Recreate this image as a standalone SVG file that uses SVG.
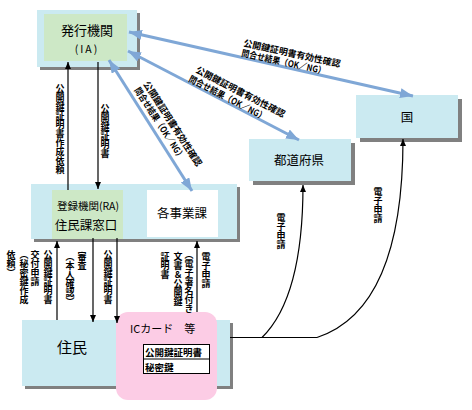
<svg xmlns="http://www.w3.org/2000/svg" width="472" height="410" viewBox="0 0 472 410">
<style>
text{font-family:"Noto Sans CJK JP","Noto Sans",sans-serif;fill:#000}
.box{fill:#cbeaf1}
.sh{fill:#808080}
.grn{fill:#cde8c6}
.lbl{font-size:9px;font-weight:bold}
.v{writing-mode:vertical-rl;font-size:9px;font-weight:bold}
.ln{stroke:#000;stroke-width:1.2;fill:none}
.bl{stroke:#7fa7d6;stroke-width:3;fill:none;marker-start:url(#bh);marker-end:url(#bh)}
</style>
<defs>
<marker id="ah" markerUnits="userSpaceOnUse" markerWidth="7" markerHeight="6" refX="7" refY="3" orient="auto-start-reverse" viewBox="0 0 7 6"><path d="M0,0 L7,3 L0,6 z" fill="#000"/></marker>
<marker id="bh" markerUnits="userSpaceOnUse" markerWidth="13" markerHeight="10" refX="13" refY="5" orient="auto-start-reverse" viewBox="0 0 13 10"><path d="M0,0 L13,5 L0,10 z" fill="#7fa7d6"/></marker>
</defs>

<g id="ia">
<rect class="sh" x="40" y="13" width="100" height="57"/>
<rect class="box" x="37" y="10" width="100" height="57"/>
<rect class="grn" x="44" y="14" width="83" height="47"/>
<text x="87" y="35" text-anchor="middle" font-size="13">発行機関</text>
<text x="87" y="53" text-anchor="middle" font-size="10.5" letter-spacing="2">(IA)</text>
</g>

<g id="city">
<rect class="sh" x="34" y="187" width="206" height="55"/>
<rect class="box" x="31" y="184" width="206" height="55"/>
<g id="ra">
<rect class="grn" x="52" y="190" width="71" height="49"/>
<text x="88" y="210" text-anchor="middle" font-size="10.5">登録機関(RA)</text>
<text x="86" y="230" text-anchor="middle" font-size="12.5">住民課窓口</text>
</g>
<g id="jigyouka">
<rect fill="#fff" x="147" y="190" width="71" height="47"/>
<text x="182" y="218" text-anchor="middle" font-size="12.5">各事業課</text>
</g>
</g>

<g id="todofuken">
<rect class="sh" x="253" y="143" width="102" height="42"/>
<rect class="box" x="249" y="139" width="102" height="42"/>
<text x="299" y="165" text-anchor="middle" font-size="12.5">都道府県</text>
</g>

<g id="kuni">
<rect class="sh" x="360" y="99" width="102" height="43"/>
<rect class="box" x="356" y="95" width="102" height="43"/>
<text x="407" y="122" text-anchor="middle" font-size="12.5">国</text>
</g>

<g id="jumin">
<rect class="sh" x="25" y="323" width="208" height="66"/>
<rect class="box" x="22" y="320" width="208" height="66"/>
<text x="72" y="353" text-anchor="middle" font-size="15">住民</text>
</g>

<g id="iccard">
<rect fill="#fccce5" x="116" y="312" width="101" height="88" rx="12"/>
<text x="130" y="333" font-size="11">ICカード　等</text>
<rect fill="#fff" stroke="#000" stroke-width="1" x="143.5" y="344.5" width="66" height="29"/>
<line x1="143.5" y1="359" x2="209.5" y2="359" stroke="#000" stroke-width="1"/>
<text x="145" y="356" font-size="9.5" font-weight="bold">公開鍵証明書</text>
<text x="145" y="371" font-size="9.5" font-weight="bold">秘密鍵</text>
</g>

<g id="connectors">
<path class="bl" d="M129,32 L413,96"/>
<path class="bl" d="M128,51 L299,140"/>
<path class="bl" d="M109,60 L192,191"/>
<path class="ln" d="M68,190 V62" marker-end="url(#ah)"/>
<path class="ln" d="M98,62 V189" marker-end="url(#ah)"/>
<path class="ln" d="M57,320 V241" marker-end="url(#ah)"/>
<path class="ln" d="M93,238 V322" marker-end="url(#ah)"/>
<path class="ln" d="M117,238 V323" marker-end="url(#ah)"/>
<path class="ln" d="M197,312 V241" marker-end="url(#ah)"/>
<path class="ln" d="M230,337.5 H317"/>
<path class="ln" d="M262,337.5 C288,312 303,262 303,185" marker-end="url(#ah)"/>
<path class="ln" d="M317,337.5 C370,320 403,260 403,139" marker-end="url(#ah)"/>
</g>

<g id="labels">
<g class="lbl">
<text transform="translate(243,46) rotate(12.4)" textLength="99" lengthAdjust="spacingAndGlyphs">公開鍵証明書有効性確認</text>
<text transform="translate(241,56) rotate(12.4)" textLength="86" lengthAdjust="spacingAndGlyphs">問合せ結果（OK／NG）</text>
<text transform="translate(195,72) rotate(27.4)" textLength="99" lengthAdjust="spacingAndGlyphs">公開鍵証明書有効性確認</text>
<text transform="translate(188,81) rotate(27.4)" textLength="86" lengthAdjust="spacingAndGlyphs">問合せ結果（OK／NG）</text>
<text transform="translate(143,84) rotate(57)" textLength="99" lengthAdjust="spacingAndGlyphs">公開鍵証明書有効性確認</text>
<text transform="translate(134,90) rotate(57)" textLength="84" lengthAdjust="spacingAndGlyphs">問合せ結果（OK／NG）</text>
</g>
<g class="v">
<text x="60" y="84">公開鍵証明書作成依頼</text>
<text x="105" y="104">公開鍵証明書</text>
<text x="48" y="250">公開鍵証明書</text>
<text x="35" y="250">交付申請</text>
<text x="24" y="250">（秘密鍵作成</text>
<text x="11" y="250">依頼）</text>
<text x="82" y="252">審査</text>
<text x="70" y="252">（本人確認）</text>
<text x="108" y="250">公開鍵証明書</text>
<text x="206" y="252">電子申請</text>
<text x="189" y="250">（電子署名付き</text>
<text x="178" y="252">文書＆公開鍵</text>
<text x="165" y="252">証明書</text>
<text x="281" y="213">電子申請</text>
<text x="378" y="187">電子申請</text>
</g>
</g>
</svg>
